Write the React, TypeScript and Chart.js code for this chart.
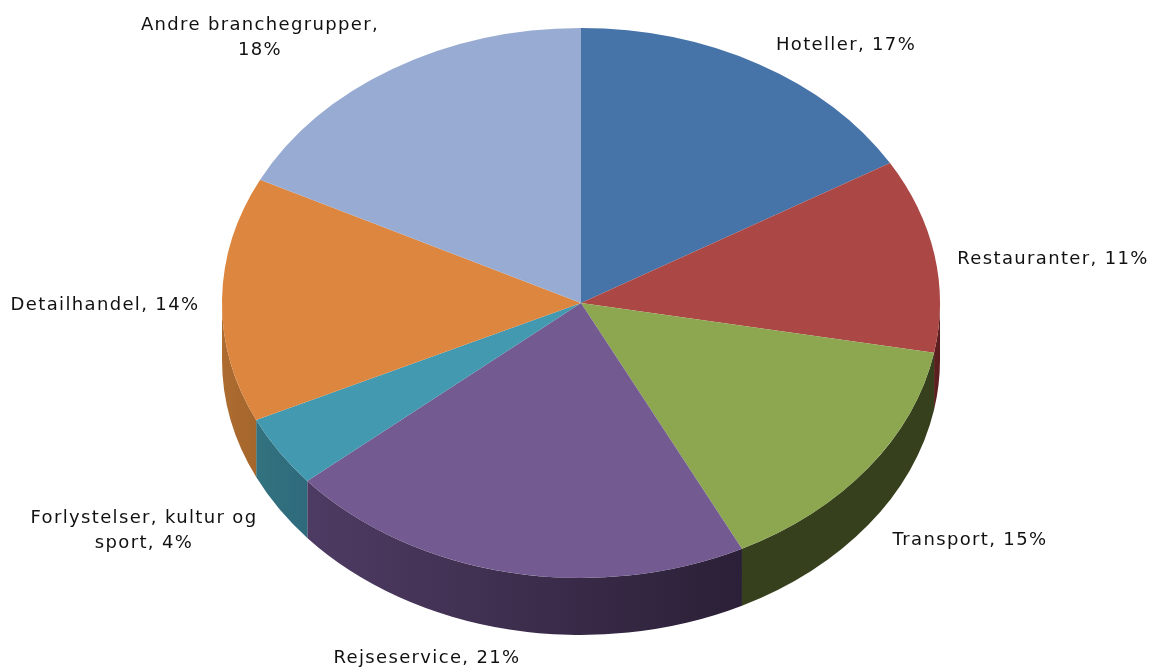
import React, { useEffect, useRef } from "react";
import { Chart, registerables } from "chart.js";

Chart.register(...registerables);

const categories = ["Hoteller", "Restauranter", "Transport", "Rejseservice", "Forlystelser, kultur og sport", "Detailhandel", "Andre branchegrupper"];
const shares = [16.5, 11.4, 14.7, 21.2, 4.2, 14.4, 17.6];
const topColors = ["#4674a8", "#ab4744", "#8ca750", "#735a90", "#4299b0", "#dd863f", "#98abd2"];
const wallFrom = ["#2c4668", "#5c1f1f", "#36401d", "#4e3b63", "#33727f", "#ad6c30", "#5e6b85"];
const wallTo = ["#2c4668", "#5c1f1f", "#36401d", "#2b2037", "#2e6a7c", "#a5662c", "#5e6b85"];

const labelLines = [
  ["Hoteller, 17%"],
  ["Restauranter, 11%"],
  ["Transport, 15%"],
  ["Rejseservice, 21%"],
  ["Forlystelser, kultur og", "sport, 4%"],
  ["Detailhandel, 14%"],
  ["Andre branchegrupper,", "18%"],
];
const labelAnchors = [
  [846, 45], [1053, 259], [970, 540], [427, 658], [144, 518], [105, 305], [260, 25],
];

const RY = 275;
const RX = 359;
const DEPTH = 57;
const SX = RX / RY;

const pie3d = {
  id: "pie3d",
  beforeDatasetsDraw(chart: any) {
    const ctx = chart.ctx;
    const arcs = chart.getDatasetMeta(0).data;
    arcs.forEach((arc: any, i: number) => {
      const { x, y, startAngle, endAngle } = arc.getProps(["x", "y", "startAngle", "endAngle"], true);
      // visible wall is the part of the rim in the lower half (0..PI in canvas angles)
      const a0 = Math.max(startAngle, 0);
      const a1 = Math.min(endAngle, Math.PI);
      if (a1 <= a0) return;
      const x0 = x + RX * Math.cos(a0);
      const x1 = x + RX * Math.cos(a1);
      const g = ctx.createLinearGradient(x0, 0, x1, 0);
      g.addColorStop(0, wallTo[i]);
      g.addColorStop(1, wallFrom[i]);
      ctx.save();
      ctx.beginPath();
      ctx.ellipse(x, y, RX, RY, 0, a0, a1, false);
      ctx.ellipse(x, y + DEPTH, RX, RY, 0, a1, a0, true);
      ctx.closePath();
      ctx.fillStyle = g;
      ctx.fill();
      ctx.restore();
    });
    const { x, y } = arcs[0];
    ctx.save();
    ctx.translate(x, y);
    ctx.scale(SX, 1);
    ctx.translate(-x, -y);
  },
  afterDatasetsDraw(chart: any) {
    const ctx = chart.ctx;
    ctx.restore();
    ctx.save();
    ctx.font = "18px 'DejaVu Sans'";
    (ctx as any).letterSpacing = "1.35px";
    ctx.fillStyle = "#111111";
    ctx.textAlign = "center";
    ctx.textBaseline = "middle";
    labelLines.forEach((lines, i) => {
      lines.forEach((line, k) => {
        ctx.fillText(line, labelAnchors[i][0], labelAnchors[i][1] + k * 25);
      });
    });
    ctx.restore();
  },
};

export default function App() {
  const ref = useRef<HTMLCanvasElement>(null);
  useEffect(() => {
    const chart = new Chart(ref.current!, {
      type: "pie",
      data: {
        labels: categories,
        datasets: [{ data: shares, backgroundColor: topColors, borderWidth: 0, clip: false as any }],
      },
      options: {
        animation: false,
        responsive: false,
        radius: RY,
        layout: { padding: { left: 12, right: 0, top: 0, bottom: 62 } },
        plugins: { legend: { display: false }, tooltip: { enabled: false } },
      },
      plugins: [pie3d],
    });
    return () => chart.destroy();
  }, []);
  return (
    <canvas
      ref={ref}
      width={1150}
      height={668}
      style={{ position: "absolute", left: 0, top: 0, display: "block" }}
    />
  );
}
